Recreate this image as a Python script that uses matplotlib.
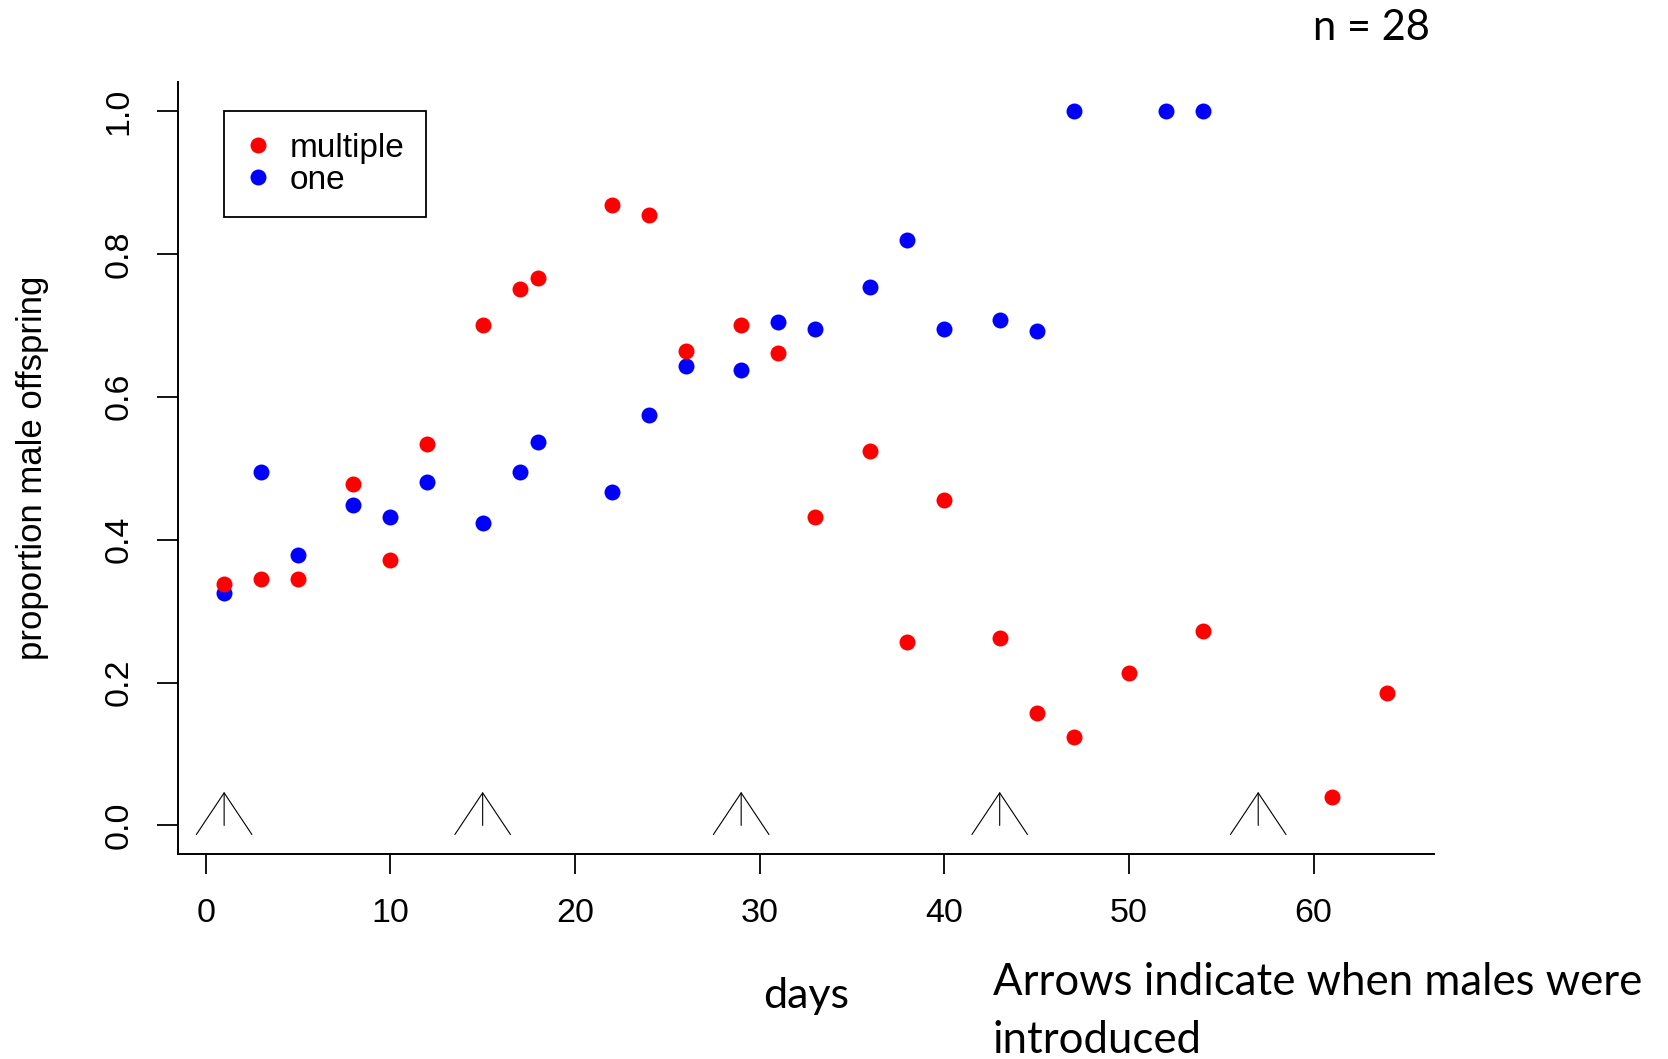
import matplotlib.pyplot as plt
from matplotlib.lines import Line2D

# days sampled and proportion of male offspring
days_multiple = [1, 3, 5, 8, 10, 12, 15, 17, 18, 22, 24, 26, 29, 31, 33, 36, 38, 40, 43, 45, 47, 50, 54, 61, 64]
prop_multiple = [0.338, 0.345, 0.345, 0.478, 0.372, 0.534, 0.701, 0.751, 0.766, 0.869, 0.854, 0.664, 0.701,
                 0.661, 0.432, 0.524, 0.257, 0.455, 0.263, 0.158, 0.124, 0.214, 0.272, 0.040, 0.186]

days_one = [1, 3, 5, 8, 10, 12, 15, 17, 18, 22, 24, 26, 29, 31, 33, 36, 38, 40, 43, 45, 47, 52, 54]
prop_one = [0.326, 0.494, 0.378, 0.449, 0.432, 0.481, 0.423, 0.494, 0.537, 0.466, 0.574, 0.643, 0.637,
            0.705, 0.695, 0.754, 0.820, 0.695, 0.708, 0.692, 1.0, 1.0, 1.0]

# days when males were introduced
arrow_days = [1, 15, 29, 43, 57]

xticks = [0, 10, 20, 30, 40, 50, 60]
yticks = [0.0, 0.2, 0.4, 0.6, 0.8, 1.0]

W, H = 1668, 1059
fig = plt.figure(figsize=(W / 100, H / 100), dpi=100)
ax = fig.add_axes([177.6 / W, 1 - 854 / H, (1434 - 177.6) / W, (854 - 82.4) / H])

rfont = 'Liberation Sans'
ms = 11.5
ax.plot(days_one, prop_one, 'o', color='blue', markersize=ms, markeredgewidth=0)
ax.plot(days_multiple, prop_multiple, 'o', color='red', markersize=ms, markeredgewidth=0)

for d in arrow_days:
    ax.annotate('', xy=(d, 0.047), xytext=(d, 0.0),
                arrowprops=dict(arrowstyle='->,head_length=3.0,head_width=2.0',
                                color='black', lw=0.8, shrinkA=0, shrinkB=0,
                                mutation_scale=10))

ax.set_xlim(-1.52, 66.52)
ax.set_ylim(-0.04, 1.04)
ax.set_xticks(xticks)
ax.set_xticklabels([str(t) for t in xticks], fontsize=24.5, family=rfont)
ax.set_yticks(yticks)
ax.set_yticklabels(['%.1f' % t for t in yticks], fontsize=24.5, family=rfont,
                   rotation=90, va='center')
ax.tick_params(axis='x', length=14.5, width=1.3, pad=17, direction='out')
ax.tick_params(axis='y', length=15, width=1.3, pad=16, direction='out')

for s in ['top', 'right']:
    ax.spines[s].set_visible(False)
for s in ['left', 'bottom']:
    ax.spines[s].set_linewidth(1.4)

ax.set_ylabel('proportion male offspring', fontsize=25, family=rfont)
ax.yaxis.set_label_coords(-0.102, 0.5)

handles = [Line2D([], [], marker='o', linestyle='none', color='red', markersize=ms, markeredgewidth=0),
           Line2D([], [], marker='o', linestyle='none', color='blue', markersize=ms, markeredgewidth=0)]
leg = ax.legend(handles, ['multiple', 'one'], loc='upper left',
                bbox_to_anchor=((224 - 177.6) / 1256.4, (854 - 111) / 771.6),
                borderaxespad=0, fancybox=False, framealpha=1, edgecolor='black',
                prop={'family': rfont, 'size': 24}, handlelength=0.74,
                handletextpad=0.59, borderpad=0.65, labelspacing=0.03)
leg.get_frame().set_linewidth(1.3)

tfont = 'Lato'
fig.text(1313 / W, 1 - 40 / H, 'n = 28', fontsize=30, family=tfont, va='baseline', ha='left')
fig.text(763 / W, 1 - 1008 / H, 'days', fontsize=31, family=tfont, va='baseline', ha='left')
fig.text(993 / W, 1 - 995 / H, 'Arrows indicate when males were', fontsize=31.5, family=tfont,
         va='baseline', ha='left')
fig.text(993 / W, 1 - 1053 / H, 'introduced', fontsize=31.5, family=tfont, va='baseline', ha='left')

fig.savefig('out.png', dpi=100)
